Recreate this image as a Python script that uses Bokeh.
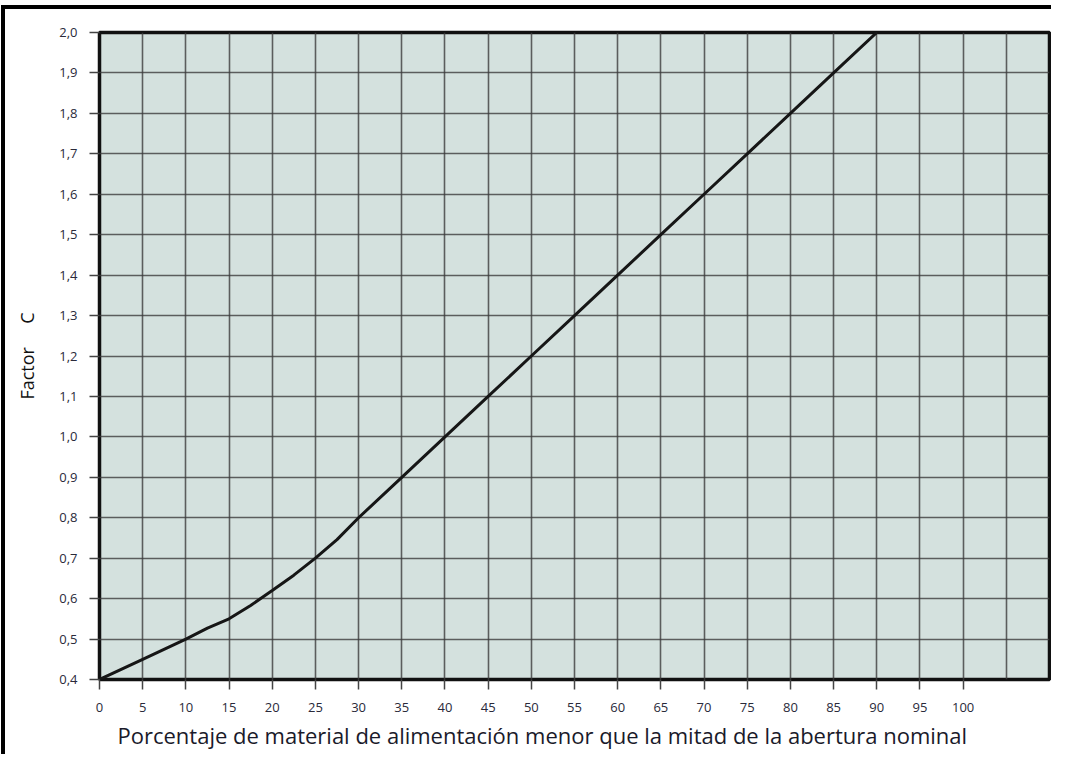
from bokeh.plotting import figure
from bokeh.models import FixedTicker, Range1d, Title
from bokeh.embed import file_html
from bokeh.resources import INLINE

# Data
pct = [0, 5, 10, 12.5, 15, 17.5, 20, 22.5, 25, 27.5, 30, 35, 40, 45, 50, 55, 60, 65,
       70, 75, 80, 85, 90]
factor_c = [0.40, 0.45, 0.50, 0.527, 0.55, 0.583, 0.62, 0.658, 0.70, 0.746, 0.80, 0.90,
            1.00, 1.10, 1.20, 1.30, 1.40, 1.50, 1.60, 1.70, 1.80, 1.90, 2.00]
x_ticks = [0, 5, 10, 15, 20, 25, 30, 35, 40, 45, 50, 55, 60, 65, 70, 75, 80, 85, 90, 95, 100]
x_grid = x_ticks + [105]
y_ticks = [0.4, 0.5, 0.6, 0.7, 0.8, 0.9, 1.0, 1.1, 1.2, 1.3, 1.4, 1.5, 1.6, 1.7, 1.8, 1.9, 2.0]
y_labels = ["0,4", "0,5", "0,6", "0,7", "0,8", "0,9", "1,0", "1,1", "1,2", "1,3",
            "1,4", "1,5", "1,6", "1,7", "1,8", "1,9", "2,0"]
x_title = "Porcentaje de material de alimentación menor que la mitad de la abertura nominal"
y_title = "Factor" + "\u00a0" * 5 + "C"

W, H = 1050, 749
p = figure(width=W, height=H, output_backend="svg", toolbar_location=None,
           x_range=Range1d(0, 110), y_range=Range1d(0.4, 2.0),
           min_border_left=94, min_border_top=23, min_border_right=W - 1044,
           min_border_bottom=H - 670)
p.styles = {"border-left": "4px solid black", "border-top": "4px solid black",
            "margin-top": "5px", "margin-left": "1px"}

p.background_fill_color = "#d4e1de"
p.border_fill_color = "white"
p.outline_line_color = "#111111"
p.outline_line_width = 3.5

p.line(pct, factor_c, line_color="#161616", line_width=3)

# grids
p.xgrid.ticker = FixedTicker(ticks=x_grid)
p.ygrid.ticker = FixedTicker(ticks=y_ticks)
for g in (p.xgrid, p.ygrid):
    g.grid_line_color = "#3c3c3c"
    g.grid_line_alpha = 0.8
    g.grid_line_width = 1.6

# axes
p.xaxis.ticker = FixedTicker(ticks=x_ticks)
p.yaxis.ticker = FixedTicker(ticks=y_ticks)
p.yaxis.major_label_overrides = {t: l for t, l in zip(y_ticks, y_labels)}
for ax in (p.xaxis, p.yaxis):
    ax.axis_line_color = None
    ax.major_tick_line_color = "#444444"
    ax.major_tick_line_width = 1.5
    ax.major_tick_in = 0
    ax.major_tick_out = 10
    ax.minor_tick_line_color = None
    ax.major_label_text_font = "Open Sans"
    ax.major_label_text_font_size = "13px"
    ax.major_label_text_color = "#2a2a3a"
p.yaxis.major_label_standoff = 12
p.xaxis.major_label_standoff = 13

p.yaxis.axis_label = y_title
p.yaxis.axis_label_text_font = "Open Sans"
p.yaxis.axis_label_text_font_style = "normal"
p.yaxis.axis_label_text_font_size = "18px"
p.yaxis.axis_label_text_color = "#111111"
p.yaxis.axis_label_standoff = 17

p.add_layout(Title(text=x_title, align="left", offset=18, standoff=7,
                   text_font="Open Sans", text_font_size="22px",
                   text_font_style="normal", text_color="#1a1a2a"), "below")

open("out.html", "w").write(file_html(p, INLINE))
